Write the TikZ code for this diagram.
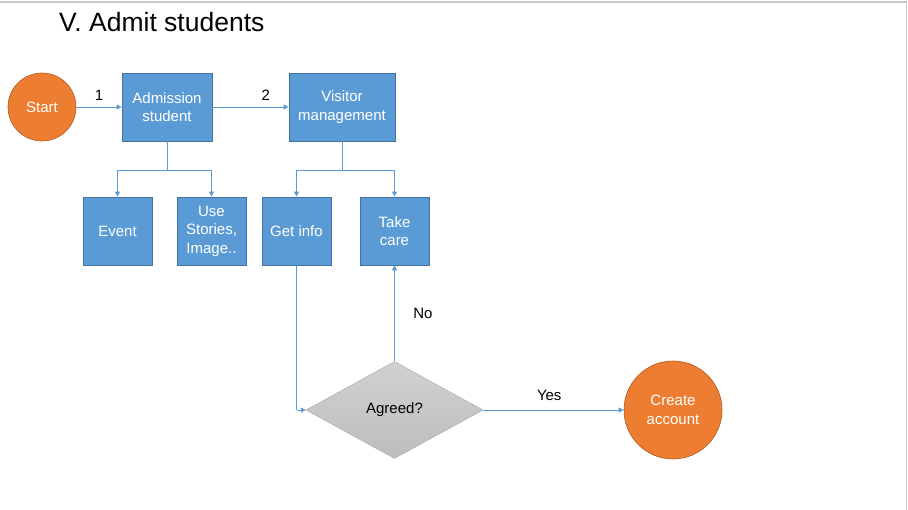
\documentclass[tikz,border=0pt]{standalone}
\usepackage{fontspec}
\setmainfont{Liberation Sans}
\usetikzlibrary{shapes.geometric,arrows.meta}
\definecolor{boxblue}{HTML}{5B9BD5}
\definecolor{boxedge}{HTML}{41719C}
\definecolor{orng}{HTML}{ED7D31}
\definecolor{orngedge}{HTML}{AE5A21}
\definecolor{frame}{HTML}{C8C8C8}
\tikzset{
  x=1pt,y=-1pt,
  pbox/.style={draw=boxedge,fill=boxblue,text=white,line width=0.8pt,inner sep=1pt,
    align=center,font=\fontsize{15}{18.5}\selectfont},
  pcirc/.style={circle,draw=orngedge,fill=orng,text=white,line width=0.6pt,inner sep=0pt,
    align=center,font=\fontsize{15}{18.5}\selectfont},
  conn/.style={draw=boxblue,line width=0.9pt,-{Triangle[width=5pt,length=5pt]}},
  plain/.style={draw=boxblue,line width=0.9pt},
  lbl/.style={font=\fontsize{15}{18}\selectfont,text=black},
}
\begin{document}
\begin{tikzpicture}
\useasboundingbox (0,0) rectangle (908,510);
\draw[frame,line width=1.2pt] (0,2) -- (906.5,2) -- (906.5,510);
\node[anchor=west,inner sep=0pt,font=\fontsize{26.5}{30}\selectfont] (title) at (59,22) {V. Admit students};

\node[pcirc,minimum size=68pt] (start) at (42,107) {Start};
\node[pbox,minimum width=90pt,minimum height=68pt] (adm) at (167,107) {Admission\\student};
\node[pbox,minimum width=106pt,minimum height=68pt] (vis) at (342,107) {Visitor\\management};
\node[pbox,minimum width=69pt,minimum height=68pt] (event) at (117.5,231) {Event};
\node[pbox,minimum width=69pt,minimum height=68pt] (use) at (211.5,231) {Use\\Stories,\\Image..};
\node[pbox,minimum width=69pt,minimum height=68pt] (get) at (296.5,231) {Get info};
\node[pbox,minimum width=69pt,minimum height=68pt] (take) at (394.5,231) {Take\\care};
\node[diamond,draw=black!35,top color=black!18,bottom color=black!26,inner sep=0pt,
  minimum width=177pt,minimum height=97pt,font=\fontsize{15}{18}\selectfont] (agr) at (394.5,410) {Agreed?};
\node[pcirc,minimum size=98pt] (acct) at (673,410) {Create\\account};

\coordinate (j1) at (167,170);
\coordinate (j2) at (342,170);
\coordinate (j3) at (296.5,410);

\draw[conn] (start) -- node[lbl,above=3pt] {1} (adm);
\draw[conn] (adm) -- node[lbl,above=3pt,pos=0.7] {2} (vis);
\draw[plain] (adm.south) -- (j1);
\draw[conn] (j1) -| (event.north);
\draw[conn] (j1) -| (use.north);
\draw[plain] (vis.south) -- (j2);
\draw[conn] (j2) -| (get.north);
\draw[conn] (j2) -| (take.north);
\draw[plain] (get.south) -- (j3);
\draw[conn] (j3) -- (agr.west);
\draw[conn] (agr.north) -- node[lbl,right=15pt] {No} (take.south);
\draw[conn] (agr.east) -- node[lbl,above=6pt,pos=0.47] {Yes} (acct.west);
\end{tikzpicture}
\end{document}
